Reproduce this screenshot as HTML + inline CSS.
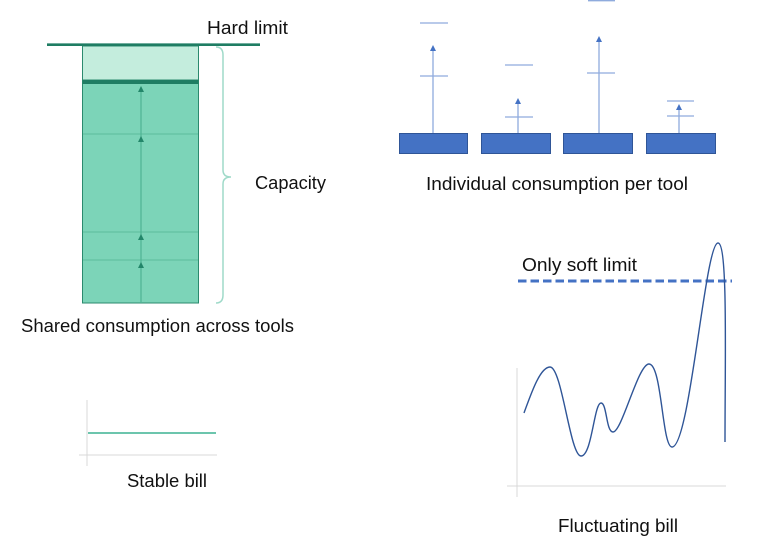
<!DOCTYPE html>
<html><head><meta charset="utf-8"><style>
html,body{margin:0;padding:0;background:#fff;}
svg{display:block;}
text{font-family:"Liberation Sans",sans-serif;font-size:18px;fill:#111;}
</style></head><body>
<svg width="776" height="550" viewBox="0 0 776 550" xmlns="http://www.w3.org/2000/svg">
<rect width="776" height="550" fill="#fff"/>
<!-- Shared consumption block -->
<rect x="82.5" y="46" width="116" height="34" fill="#c4eddd" stroke="#2b8a6e" stroke-width="1"/>
<rect x="82.5" y="80" width="116" height="223" fill="#7cd4b8" stroke="#2b8a6e" stroke-width="1"/>
<rect x="82.5" y="80" width="116" height="4" fill="#1f7d63"/>
<line x1="47" y1="44.7" x2="260" y2="44.7" stroke="#1f7d63" stroke-width="2.6"/>
<g stroke="#5bbd9d" stroke-width="1">
<line x1="83" y1="134" x2="198" y2="134"/>
<line x1="83" y1="232" x2="198" y2="232"/>
<line x1="83" y1="260" x2="198" y2="260"/>
</g>
<line x1="141" y1="303" x2="141" y2="88" stroke="#4fb393" stroke-width="1.2"/>
<g fill="#23866a">
<polygon points="141,86 138,92 144,92"/>
<polygon points="141,136 138,142 144,142"/>
<polygon points="141,234 138,240 144,240"/>
<polygon points="141,262 138,268 144,268"/>
</g>
<!-- brace -->
<path d="M216,47 Q223,47 223,55 L223,170 Q223,177 231,177 Q223,177 223,184 L223,295 Q223,303 216,303" fill="none" stroke="#9fdac9" stroke-width="1.5"/>
<text x="207" y="34" textLength="81" lengthAdjust="spacingAndGlyphs">Hard limit</text>
<text x="255" y="189" textLength="71" lengthAdjust="spacingAndGlyphs">Capacity</text>
<text x="21" y="332" textLength="273" lengthAdjust="spacingAndGlyphs">Shared consumption across tools</text>

<!-- Individual consumption -->
<g fill="#4472c4" stroke="#2f5597" stroke-width="1">
<rect x="399.5" y="133.5" width="68" height="20"/>
<rect x="481.5" y="133.5" width="69" height="20"/>
<rect x="563.5" y="133.5" width="69" height="20"/>
<rect x="646.5" y="133.5" width="69" height="20"/>
</g>
<g stroke="#8fabdd" stroke-width="1.3">
<line x1="433" y1="133" x2="433" y2="50"/>
<line x1="420" y1="76" x2="448" y2="76"/>
<line x1="420" y1="23" x2="448" y2="23"/>
<line x1="518" y1="133" x2="518" y2="103"/>
<line x1="505" y1="117" x2="533" y2="117"/>
<line x1="505" y1="65" x2="533" y2="65"/>
<line x1="599" y1="133" x2="599" y2="41"/>
<line x1="587" y1="73" x2="615" y2="73"/>
<line x1="588" y1="0.7" x2="615" y2="0.7"/>
<line x1="679" y1="133" x2="679" y2="109"/>
<line x1="667" y1="116" x2="694" y2="116"/>
<line x1="667" y1="101" x2="694" y2="101"/>
</g>
<g fill="#4472c4">
<polygon points="433,45 430,51 436,51"/>
<polygon points="518,98 515,104 521,104"/>
<polygon points="599,36 596,42 602,42"/>
<polygon points="679,104 676,110 682,110"/>
</g>
<text x="426" y="190" textLength="262" lengthAdjust="spacingAndGlyphs">Individual consumption per tool</text>

<!-- Fluctuating bill -->
<g stroke="#d9d9d9" stroke-width="1">
<line x1="517" y1="368" x2="517" y2="497"/>
<line x1="507" y1="486" x2="726" y2="486"/>
</g>
<line x1="518" y1="281" x2="732" y2="281" stroke="#4472c4" stroke-width="3" stroke-dasharray="8.5 4"/>
<path d="M524,413 C531,394 540,367 550,367 C562,367 570,456 581,456 C592,456 594,403 601,403 C607,403 606,432 613,432 C622,432 638,364 649,364 C662,364 662,447 672,447 C690,447 705,243 718,243 C728,243 725,360 725,442" fill="none" stroke="#2f5597" stroke-width="1.4"/>
<text x="522" y="271" textLength="115" lengthAdjust="spacingAndGlyphs">Only soft limit</text>
<text x="558" y="532" textLength="120" lengthAdjust="spacingAndGlyphs">Fluctuating bill</text>

<!-- Stable bill -->
<g stroke="#d9d9d9" stroke-width="1">
<line x1="87" y1="400" x2="87" y2="466"/>
<line x1="79" y1="455" x2="217" y2="455"/>
</g>
<line x1="88" y1="433" x2="216" y2="433" stroke="#6cc5ad" stroke-width="2"/>
<text x="127" y="487" textLength="80" lengthAdjust="spacingAndGlyphs">Stable bill</text>
</svg>
</body></html>
